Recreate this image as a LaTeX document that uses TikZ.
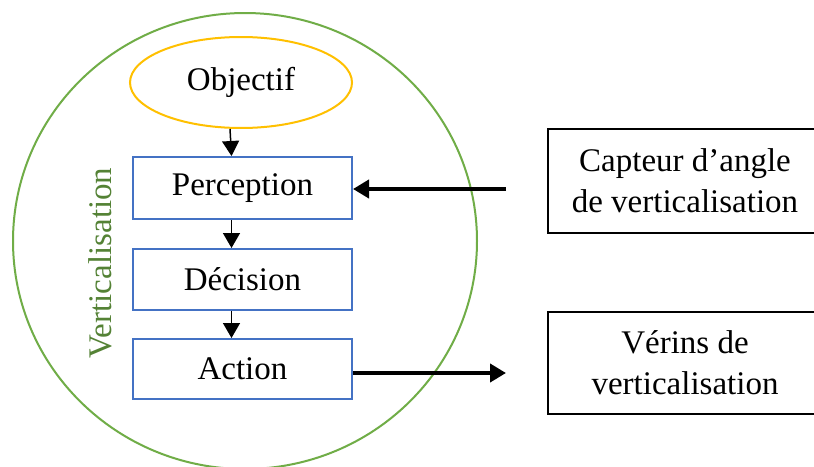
\documentclass[tikz,border=0pt]{standalone}
\usepackage{fontspec}
\setmainfont{Liberation Serif}
\usetikzlibrary{arrows.meta,shapes.geometric}
\definecolor{cgreen}{HTML}{70AD47}
\definecolor{tgreen}{HTML}{548235}
\definecolor{corange}{HTML}{FFC000}
\definecolor{cblue}{HTML}{4472C4}
\tikzset{
  txt/.style={font=\fontsize{33}{41}\selectfont, align=center, inner sep=0pt},
  stepbox/.style={txt, draw=cblue, line width=2pt, minimum width=219pt},
  extbox/.style={txt, draw=black, line width=1.6pt, minimum width=274pt},
  thinarr/.style={line width=1.5pt, -{Triangle[length=15pt,width=17pt]}},
  thickarr/.style={line width=4pt, -{Triangle[length=16pt,width=18pt]}}
}
\begin{document}
\begin{tikzpicture}[x=1pt,y=-1pt]
\useasboundingbox (0,0) rectangle (814,466);
\clip (0,0) rectangle (814,466);
\fill[white] (0,0) rectangle (814,466);
\draw[cgreen, line width=2pt] (245,241) ellipse [x radius=232, y radius=228];
\node[txt, ellipse, draw=corange, line width=2pt, minimum width=222pt, minimum height=91pt] (obj) at (241,82.5) {Objectif};
\node[stepbox, minimum height=62pt] (per) at (242.5,188) {Perception};
\node[stepbox, minimum height=61pt] (dec) at (242.5,279.5) {Décision};
\node[stepbox, minimum height=60pt] (act) at (242.5,369) {Action};
\node[txt, rotate=90, text=tgreen] (vert) at (100,263) {Verticalisation};
\node[extbox, minimum height=104pt] (cap) at (685,181) {Capteur d’angle\\de verticalisation};
\node[extbox, minimum height=102pt] (ver) at (685,363) {Vérins de\\verticalisation};
\draw[thinarr] ([xshift=-11pt]obj.south) -- ([xshift=-11pt]per.north);
\draw[thinarr] ([xshift=-11pt]per.south) -- ([xshift=-11pt]dec.north);
\draw[thinarr] ([xshift=-11pt]dec.south) -- ([xshift=-11pt]act.north);
\coordinate (cin) at (506,189);
\coordinate (cout) at (506,373);
\draw[thickarr] (cin) -- (per.east |- cin);
\draw[thickarr] (act.east |- cout) -- (cout);
\end{tikzpicture}
\end{document}
